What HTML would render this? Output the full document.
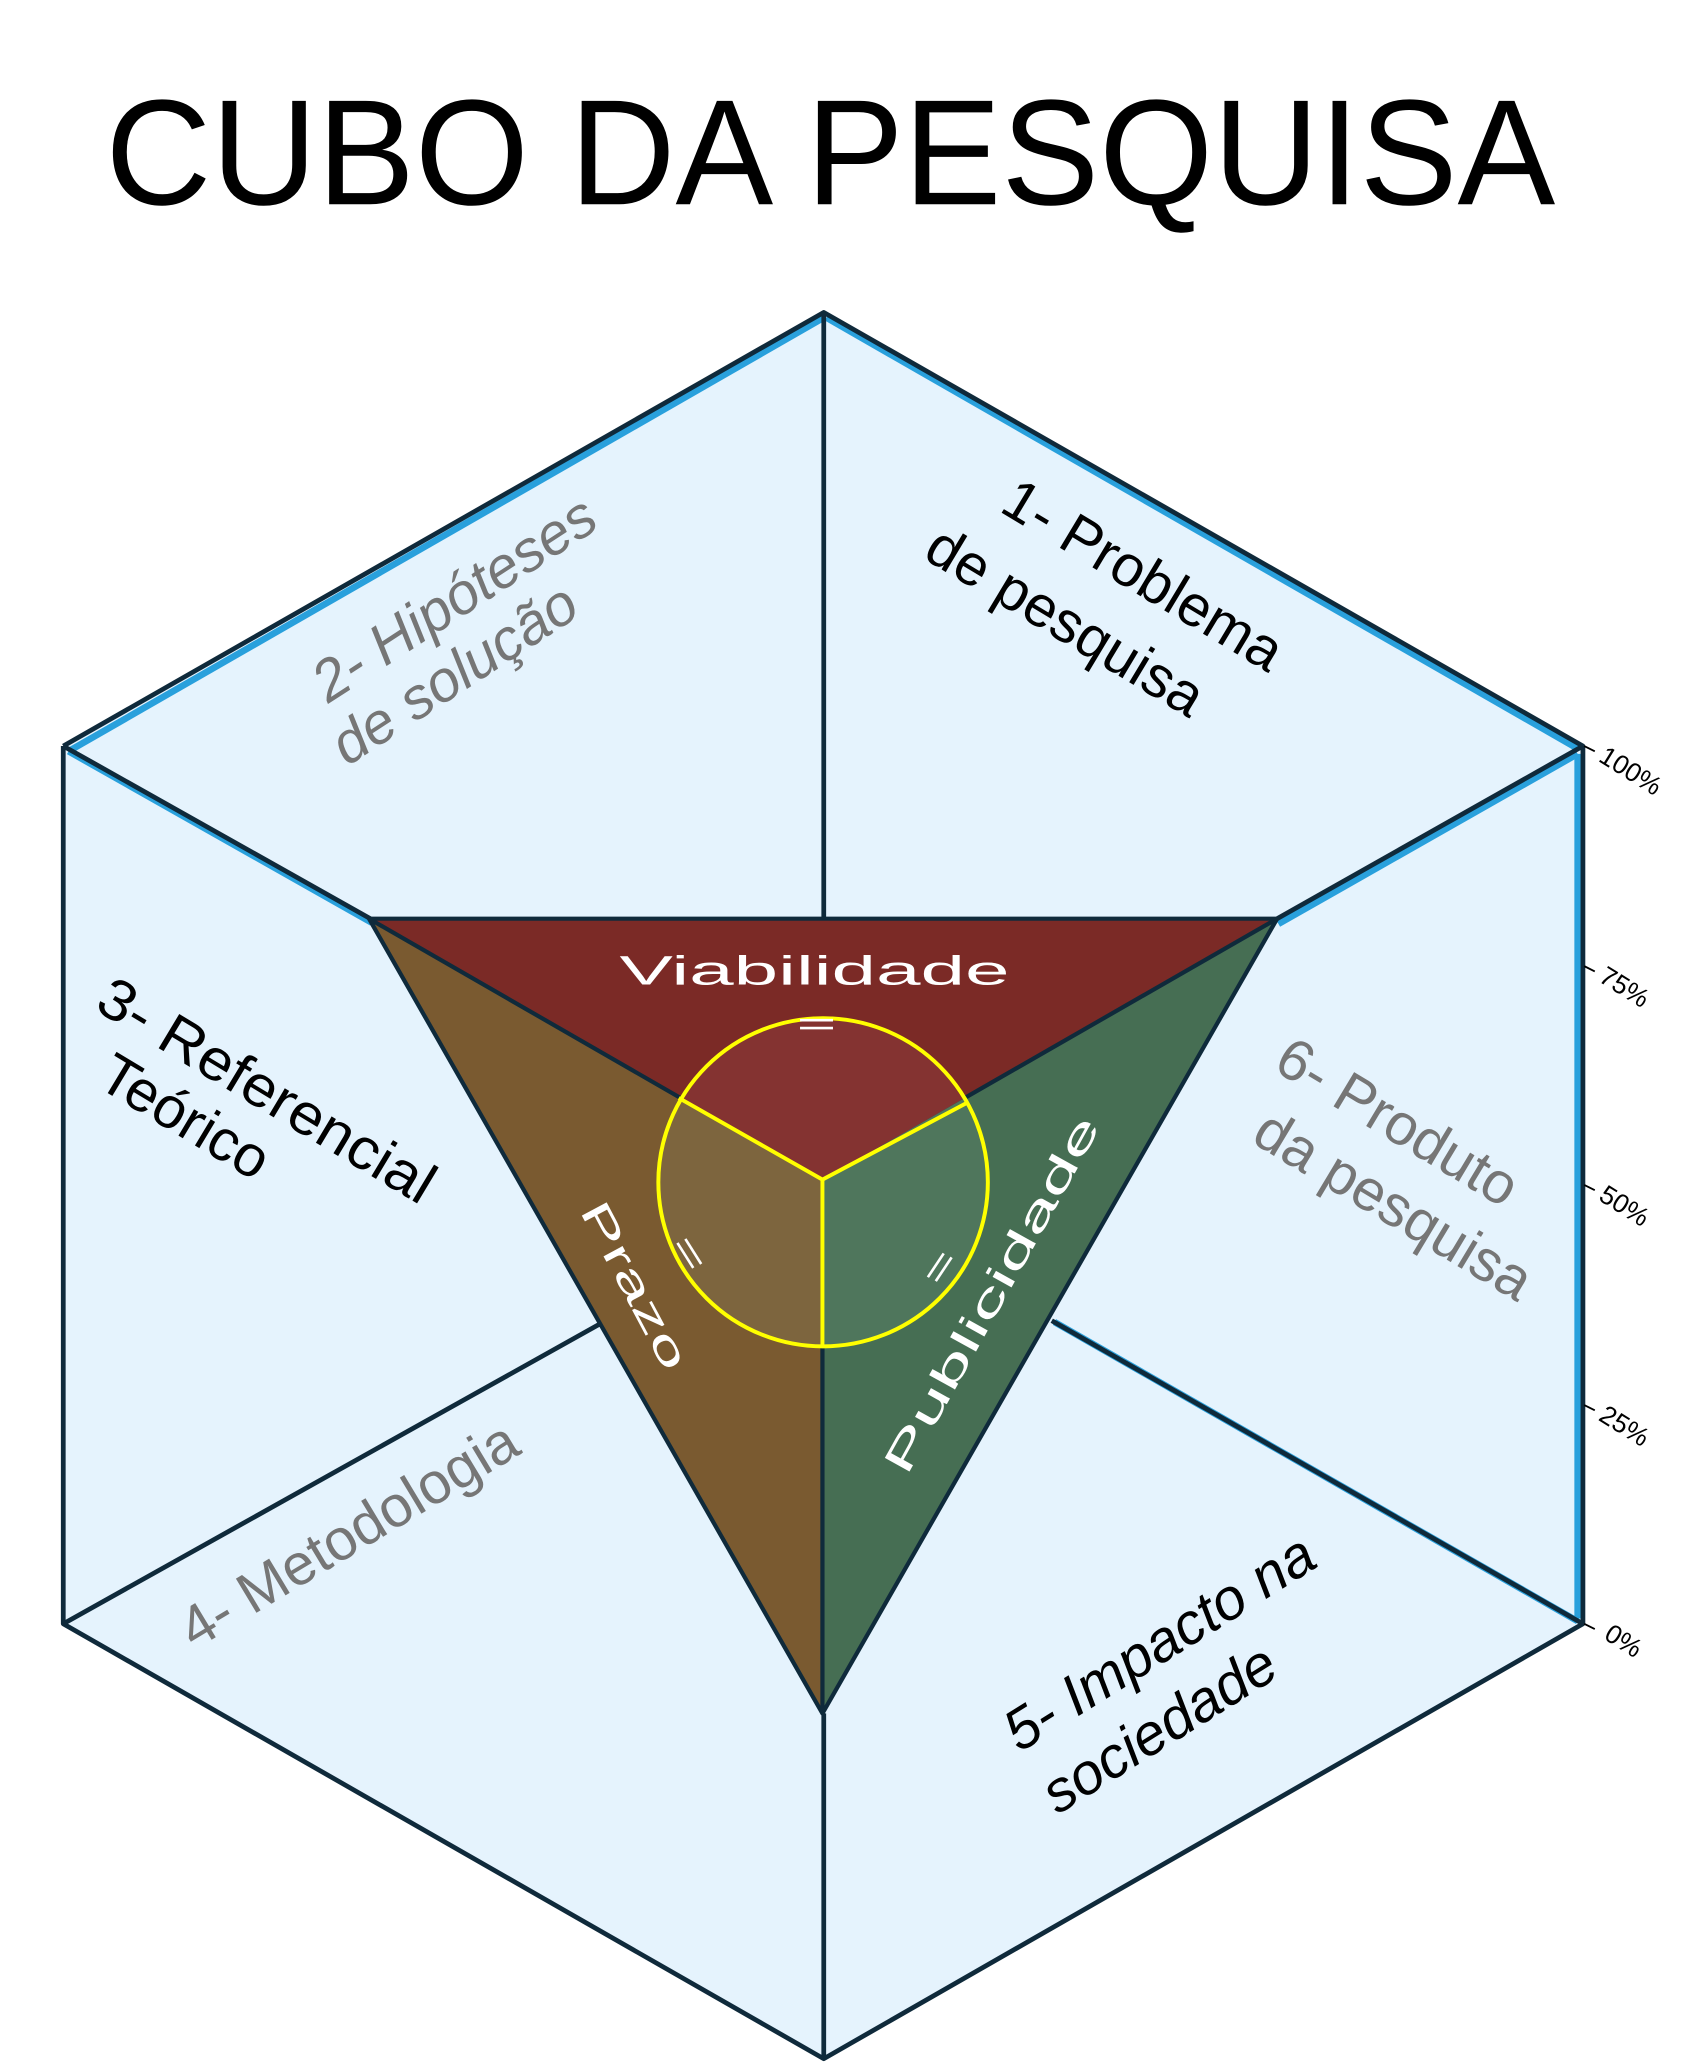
<!DOCTYPE html>
<html><head><meta charset="utf-8"><style>
html,body{margin:0;padding:0;background:#fff;}
svg{display:block;}
text{font-family:"Liberation Sans",sans-serif;}
</style></head><body>
<svg width="1703" height="2068" viewBox="0 0 1292.1 1569" xmlns="http://www.w3.org/2000/svg">
<rect width="1292.1" height="1569" fill="#fff"/>
<text x="630" y="155" font-size="114" text-anchor="middle" textLength="1100" lengthAdjust="spacingAndGlyphs" fill="#000">CUBO DA PESQUISA</text>

<polygon points="625,237 1201,566 1201,1232 625,1562 48,1232 48,566" fill="#e5f3fd"/>
<g stroke="#29a0dc" stroke-width="5" fill="none">
<line x1="52" y1="570" x2="625" y2="241"/>
<line x1="627" y1="241" x2="1197" y2="568"/>
<line x1="1197" y1="572" x2="1197" y2="1228"/>
<line x1="52" y1="570" x2="282" y2="700"/>
<line x1="970" y1="701" x2="1197" y2="572"/>
<line x1="800" y1="1003" x2="1197" y2="1230"/>
</g>
<g stroke="#0f2a3b" stroke-width="3.6" fill="none" stroke-linejoin="round">
<polyline points="48,566 625,237 1201,566 1201,1232 625,1562 48,1232 48,566"/>
<line x1="625" y1="237" x2="625" y2="697"/>
<line x1="48" y1="566" x2="281" y2="697"/>
<line x1="1201" y1="566" x2="969" y2="697"/>
<line x1="48" y1="1232" x2="456" y2="1004"/>
<line x1="1201" y1="1232" x2="798" y2="1002"/>
<line x1="625" y1="1300" x2="625" y2="1562"/>
</g>

<polygon points="280,697 969,697 624,895" fill="#7b2a26"/>
<polygon points="280,697 624,895 624,1300" fill="#7a5a30"/>
<polygon points="969,697 624,895 624,1300" fill="#466e53"/>
<g stroke="#0f2a3b" stroke-width="3.2" fill="none" stroke-linejoin="round">
<polygon points="280,697 969,697 624,1300"/>
<line x1="280" y1="697" x2="624" y2="895"/>
<line x1="969" y1="697" x2="624" y2="895"/>
<line x1="624" y1="895" x2="624" y2="1300"/>
</g>
<defs><clipPath id="c"><ellipse cx="624.5" cy="897" rx="125" ry="124.5"/></clipPath></defs>
<g clip-path="url(#c)">
<polygon points="280,697 969,697 624,895" fill="#843331"/>
<polygon points="280,697 624,895 624,1300" fill="#7d653e"/>
<polygon points="969,697 624,895 624,1300" fill="#4f765c"/>
</g>
<g stroke="#ffff00" stroke-width="3" fill="none">
<ellipse cx="624.5" cy="897" rx="125" ry="124.5"/>
<polyline points="515,833 624,895 735,836"/>
<line x1="624" y1="895" x2="624" y2="1021"/>
</g>

<text x="618" y="747" font-size="31" fill="#fff" text-anchor="middle" textLength="296" lengthAdjust="spacingAndGlyphs">Viabilidade</text>
<text transform="translate(482,975) rotate(62)" font-size="31" fill="#fff" text-anchor="middle" textLength="140" lengthAdjust="spacingAndGlyphs" dy="11">Prazo</text>
<text transform="translate(752,982) rotate(-61)" font-size="31" fill="#fff" text-anchor="middle" textLength="305" lengthAdjust="spacingAndGlyphs" dy="11">Publicidade</text>
<g stroke="#fff" stroke-width="2">
<line x1="607" y1="774" x2="632" y2="774"/><line x1="607" y1="780" x2="632" y2="780"/>
<line x1="514" y1="943" x2="526" y2="962"/><line x1="520" y1="940" x2="532" y2="959"/>
<line x1="704" y1="969" x2="716" y2="951"/><line x1="710" y1="972" x2="722" y2="954"/>
</g>

<g font-size="44">
<text transform="translate(867,437) rotate(31)" text-anchor="middle" fill="#000" dy="14">1- Problema</text>
<text transform="translate(808,472) rotate(31)" text-anchor="middle" fill="#000" dy="14">de pesquisa</text>
<text transform="translate(345,455) rotate(-33)" text-anchor="middle" fill="#767676" font-style="italic" dy="14">2- Hipóteses</text>
<text transform="translate(345,512) rotate(-33)" text-anchor="middle" fill="#767676" font-style="italic" dy="14">de solução</text>
<text transform="translate(202,828) rotate(31)" text-anchor="middle" fill="#000" dy="14" textLength="290" lengthAdjust="spacingAndGlyphs">3- Referencial</text>
<text transform="translate(140,848) rotate(31)" text-anchor="middle" fill="#000" dy="14">Teórico</text>
<text transform="translate(265,1165) rotate(-31)" text-anchor="middle" fill="#767676" dy="14" font-size="44">4- Metodologia</text>
<text transform="translate(880,1247) rotate(-32)" text-anchor="middle" fill="#000" font-style="italic" dy="14">5- Impacto na</text>
<text transform="translate(880,1312) rotate(-32)" text-anchor="middle" fill="#000" font-style="italic" dy="14">sociedade</text>
<text transform="translate(1060,852) rotate(31)" text-anchor="middle" fill="#767676" dy="14">6- Produto</text>
<text transform="translate(1057,915) rotate(31)" text-anchor="middle" fill="#767676" dy="14">da pesquisa</text>
</g>

<g stroke="#000" stroke-width="1.4">
<line x1="1202" y1="566" x2="1210" y2="570"/>
<line x1="1202" y1="733" x2="1210" y2="737"/>
<line x1="1202" y1="899" x2="1210" y2="903"/>
<line x1="1202" y1="1066" x2="1210" y2="1070"/>
<line x1="1202" y1="1232" x2="1210" y2="1236"/>
</g>
<g font-size="20" fill="#000">
<text transform="translate(1212,577) rotate(32)">100%</text>
<text transform="translate(1212,744) rotate(32)">75%</text>
<text transform="translate(1212,910) rotate(32)">50%</text>
<text transform="translate(1212,1077) rotate(32)">25%</text>
<text transform="translate(1216,1243) rotate(32)">0%</text>
</g>
</svg>
</body></html>
